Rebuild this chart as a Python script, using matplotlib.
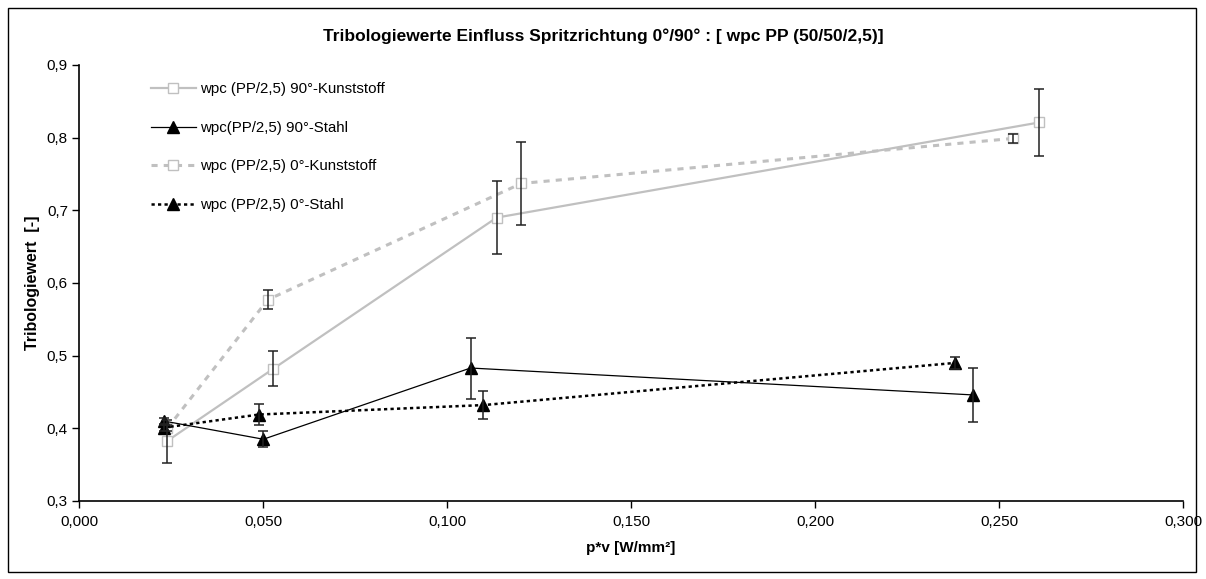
import numpy as np
import matplotlib.pyplot as plt
from matplotlib.ticker import FuncFormatter, MultipleLocator
from matplotlib.patches import Rectangle

plt.rcParams['font.family'] = ['Liberation Sans', 'DejaVu Sans']

# p*v [W/mm²] and Tribologiewert with error half-widths
x_k90 = [0.0238, 0.0528, 0.1135, 0.2610]
y_k90 = [0.382, 0.482, 0.690, 0.821]
e_k90 = [0.030, 0.024, 0.050, 0.046]

x_s90 = [0.0231, 0.0501, 0.1064, 0.2428]
y_s90 = [0.410, 0.385, 0.483, 0.446]
e_s90 = [0.004, 0.011, 0.042, 0.037]

x_k0 = [0.0240, 0.0513, 0.1202, 0.2539]
y_k0 = [0.400, 0.577, 0.737, 0.799]
e_k0 = [0.004, 0.013, 0.057, 0.006]

x_s0 = [0.0231, 0.0489, 0.1099, 0.2380]
y_s0 = [0.401, 0.419, 0.432, 0.490]
e_s0 = [0.004, 0.014, 0.019, 0.008]

labels = ['wpc (PP/2,5) 90°-Kunststoff', 'wpc(PP/2,5) 90°-Stahl',
          'wpc (PP/2,5) 0°-Kunststoff', 'wpc (PP/2,5) 0°-Stahl']

grey = '#c0c0c0'

fig = plt.figure(figsize=(12.06, 5.79), dpi=100)
ax = fig.add_axes([79/1206, 1 - 501/579, (1183-79)/1206, (501-65)/579])

h1, = ax.plot(x_k90, y_k90, '-', c=grey, lw=1.6, marker='s', ms=7,
              mfc='white', mec=grey, mew=1, zorder=2)
h3, = ax.plot(x_k0, y_k0, c=grey, lw=2.2, ls=(0, (2, 2)), marker='s', ms=7,
              mfc='white', mec=grey, mew=1, zorder=2)
h2, = ax.plot(x_s90, y_s90, '-', c='black', lw=0.9, marker='^', ms=9,
              mfc='black', mec='black', zorder=3)
h4, = ax.plot(x_s0, y_s0, c='black', lw=1.8, ls=(0, (1.3, 1.3)), marker='^', ms=9,
              mfc='black', mec='black', zorder=3)

for xs, ys, es in [(x_k90, y_k90, e_k90), (x_k0, y_k0, e_k0),
                   (x_s90, y_s90, e_s90), (x_s0, y_s0, e_s0)]:
    ax.errorbar(xs, ys, yerr=es, fmt='none', ecolor='#222222', elinewidth=1.1,
                capsize=3.5, capthick=1.1, zorder=4)

ax.set_xlim(0, 0.3)
ax.set_ylim(0.3, 0.9)
ax.xaxis.set_major_locator(MultipleLocator(0.05))
ax.yaxis.set_major_locator(MultipleLocator(0.1))
ax.xaxis.set_major_formatter(FuncFormatter(lambda v, p: f'{v:.3f}'.replace('.', ',')))
ax.yaxis.set_major_formatter(FuncFormatter(lambda v, p: f'{v:.1f}'.replace('.', ',')))
ax.spines['top'].set_visible(False)
ax.spines['right'].set_visible(False)
for s in ['left', 'bottom']:
    ax.spines[s].set_linewidth(1.2)
ax.tick_params(direction='out', length=5, width=1, labelsize=11)
ax.tick_params(axis='x', pad=5)
ax.tick_params(axis='y', pad=3)

ax.set_xlabel('p*v [W/mm²]', fontsize=11, fontweight='bold', labelpad=9)
ax.set_ylabel('Tribologiewert  [-]', fontsize=11.5, fontweight='bold', labelpad=5)
fig.text(0.5, 1 - 36/579, 'Tribologiewerte Einfluss Spritzrichtung 0°/90° : [ wpc PP (50/50/2,5)]',
         ha='center', va='center', fontsize=12.5, fontweight='bold')

fig.legend([h1, h2, h3, h4], labels, loc='upper left',
           bbox_to_anchor=(137/1206, 1 - 69/579), frameon=False, fontsize=10.8,
           handlelength=3.0, labelspacing=1.63, handletextpad=0.3)

fig.patches.append(Rectangle((8/1206, 7/579), 1188/1206, 564/579, transform=fig.transFigure,
                             fill=False, ec='black', lw=1))

fig.savefig('out.png', dpi=100)
